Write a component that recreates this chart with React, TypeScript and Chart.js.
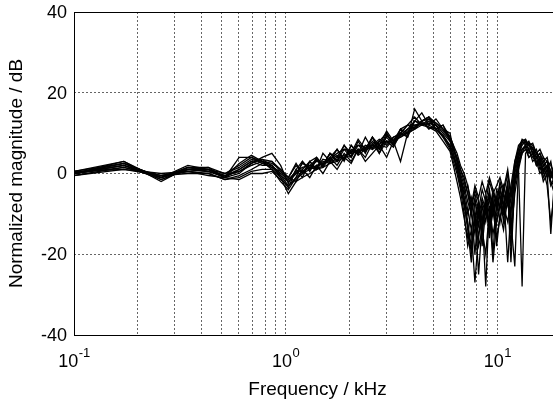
import React, { useEffect, useRef } from "react";
import { Chart, registerables } from "chart.js";

Chart.register(...registerables);

// Frequency grid (kHz)
const FREQS = [
  0.1, 0.172, 0.258, 0.345, 0.431, 0.517, 0.603, 0.689, 0.775, 0.861, 0.947, 1.03,
  1.12, 1.2, 1.3, 1.4, 1.5, 1.62, 1.75, 1.89, 2.04, 2.2, 2.38, 2.57, 2.77, 3.0, 3.23,
  3.49, 3.77, 4.07, 4.4, 4.75, 5.13, 5.54, 5.98,
  6.2, 6.45, 6.7, 6.97, 7.25, 7.54, 7.84, 8.16, 8.48, 8.82, 9.18, 9.54, 9.93, 10.3,
  10.7, 11.2, 11.6, 12.1, 12.6, 13.1, 13.6, 14.1, 14.7, 15.3, 15.9, 16.5, 17.2, 17.9,
  18.6, 19.3, 20,
];

// Normalized magnitude (dB) per measured curve
const CURVE_A = [0, 2.5, -1, 1.5, 0.5, -0.5, 1, 3, 3.5, 2, 0, -1.5, 0.5, 1.5, 2, 1.5, 3.5, 3, 4.5, 3.5, 6, 5, 7, 6.5, 8, 7, 9, 9.5, 11, 13, 12.5, 12, 11, 9, 6, 4, 2, -1, -4, -9, -14, -7, -11, -6, -9, -4, -10, -6, -3, -8, -2, -14, 1, 5, 7, 8, 6, 6.5, 4, 5, 2, 3, -1, 1, -4, -1];
const CURVE_B = [0.5, 3, -1.5, 1, 1.5, -1, 4, 4, 3, 1, -2, -4, -1, 3, 1, 4, 2, 5, 3, 7, 4, 8, 5, 9, 6, 10, 7, 11, 9, 16, 13, 14, 11, 12, 8, 6, 4, 1, -2, -5, -8, -3, -6, -2, -5, -1, -4, -8, -2, -5, 0, -6, 3, 6, 8, 7.5, 7, 5, 6, 3, 4, 1, 3, -2, 0, -5];
const CURVE_C = [-0.5, 1.5, -0.5, 0.5, 0, -1.5, -0.5, 1, 2.5, 3, 1, -1, -2, 1, -1, 2, 0, 3, 1, 4, 2.5, 6, 3, 5, 7, 4, 8, 3, 10, 11, 13, 11, 12, 9, 7, 5, 2, -2, -6, -12, -20, -9, -16, -8, -12, -6, -11, -4, -6, -10, -5, -18, -3, 2, 5, 6, 4, 5, 2, 3, -1, 1, -3, -1, -6, -2];
const CURVE_D = [0, 2, -1.5, 1, 0.5, -1, 0, 2.5, 4, 5, 2, -2.5, 1, -1, 3, 4, 2, 5, 4, 7, 5, 8.5, 6, 9, 7, 10.5, 8, 11, 12, 14, 12, 13.5, 11, 12, 9, 7, 5, 2, 0, -3, -7, -5, -9, -4, -7, -2, -5, -3, -1, -4, 1, -5, 2, 6, 8.5, 8, 7.5, 7, 5, 6, 4, 3, 2, 0, -2, -8];
const CURVE_E = [0, 3, -2, 1.5, 1, -0.5, 0.5, 2, 3, 1.5, -0.5, -3, -1, 0.5, 1.5, 1, 3, 2.5, 4, 4, 5.5, 5, 6.5, 6, 7, 6.5, 8.5, 9, 10.5, 12, 12, 11.5, 11, 9.5, 6.5, 3, 0, -4, -10, -18, -14, -27, -15, -10, -28, -8, -15, -10, -5, -12, -4, -22, -2, 3, 6, 7, 5, 5.5, 3, 2, -2, 0, -15, -2, -4, -4];
const CURVE_F = [0.5, 1, -0.5, 0, 0, -1.5, -1, 0.5, 1, 1, -1, -5, -2, -1, 0, 1, 1.5, 2.5, 3, 4, 4.5, 6, 5.5, 7, 6.5, 8, 7.5, 9.5, 10, 11, 12, 12.5, 12, 10, 8, 6, 3, 0, -3, -7, -10, -15, -8, -12, -6, -16, -7, -12, -8, -3, -7, -5, -1, 1, -28, 5, 6, 3, 4, 1, 2, -1, 1, -3, -1, -4];
const CURVE_G = [0, 2.5, -1, 2, 1, 0, 1.5, 3.5, 3, 2.5, 1, -1, 2, 0, 3, 1, 5, 3, 6, 3.5, 7, 5, 9, 6, 8, 10, 7, 11, 10, 13, 15, 12, 13.5, 11, 10, 6, 4, 1, -1, -5, -10, -6, -13, -7, -10, -5, -20, -6, -9, -4, -22, -9, 0, 4, 7.5, 8, 7, 6, 4, 5, 3, 4, 0, 1, -2, -1];
const CURVE_H = [-0.5, 1, 0, 0.5, -0.5, -1, -1.5, 0, 0, 0.5, -1.5, -3, -1.5, 0, 1, 2, 2.5, 3, 3.5, 4.5, 5, 5.5, 6, 6.5, 7.5, 8, 8, 9, 10, 11.5, 13, 13.5, 12.5, 11, 8.5, 5, 1, -3, -7, -14, -22, -11, -18, -14, -20, -9, -22, -12, -7, -9, -3, -15, -5, 1, 5, 7, 6, 4, 3, 0, 1, -3, -12, -5, -3, -14];
const CURVE_I = [0, 2, -1, 1, 0.5, -0.5, 0.5, 2.5, 3.5, 3, 0.5, -2, 0, 2.5, 1.5, 3, 2.5, 3.5, 5, 6, 5.5, 7, 6.5, 7, 8.5, 7.5, 9, 10, 12, 12, 12.5, 11.5, 10.5, 8, 5.5, 2, -2, -6, -11, -16, -8, -20, -9, -15, -7, -13, -6, -18, -10, -14, -6, -12, -23, 2, 6, 6.5, 4, 5, 2, 4, 0, 2, -2, -5, -6, -3];
const CURVE_J = [0, 1.5, -1, 1.5, 1.5, 0, 2, 4, 2.5, 1.5, 0.5, -1, 2.5, 0, 2, 3.5, 1.5, 4, 6, 3, 7, 4.5, 6, 9, 5, 9.5, 8, 10, 12, 11, 13, 14, 12, 10.5, 8.5, 6.5, 3.5, -1, -5, -3, -9, -4, -7, -14, -6, -10, -4, -7, -12, -5, -8, -3, 3, 7, 8, 8.5, 7, 7.5, 5, 4, 2, 3, -1, 2, 1, -2];
const CURVE_K = [0, 2, -0.5, 1, 1, -1, 1, 3, 2, 2, -0.5, -2, 0, 1, 3, 1, 2, 4, 2, 5, 3, 6, 4, 7.5, 5, 8, 6.5, 10, 9, 13, 12, 13, 11, 9.5, 7, 4, 1, -3, -8, -13, -18, -10, -25, -12, -8, -14, -7, -16, -11, -8, -12, -6, -2, 4, 6, 7, 7.5, 5, 4, 3, 1, 2, -2, -3, -4, -5];
const CURVE_L = [0.5, 2.5, -1, 0.5, 1, -1, 2.5, 4.5, 3, 2, -1, -3.5, 1, 3, 0.5, 3.5, 2, 5, 3, 6, 4, 7, 5.5, 8, 6, 9, 7, 9.5, 11, 11.5, 13, 14, 12.5, 11, 9, 7, 3, -1, -6, -10, -6, -12, -7, -18, -9, -12, -5, -9, -4, -8, -3, -10, 1, 5, 8, 7, 8, 6, 5, 2, 3, 0, -1, 0, -3, -6];

const CURVES = [CURVE_A, CURVE_B, CURVE_C, CURVE_D, CURVE_E, CURVE_F, CURVE_G, CURVE_H, CURVE_I, CURVE_J, CURVE_K, CURVE_L];

const X_GRID = [0.1, 0.2, 0.3, 0.4, 0.5, 0.6, 0.7, 0.8, 0.9, 1, 2, 3, 4, 5, 6, 7, 8, 9, 10, 20];
const X_LABELS = [
  { value: 0.1, exp: "-1" },
  { value: 1, exp: "0" },
  { value: 10, exp: "1" },
];
const Y_TICKS = [-40, -20, 0, 20, 40];
const X_TITLE = "Frequency / kHz";
const Y_TITLE = "Normalized magnitude / dB";

const FONT = '"Liberation Sans", Arial, Helvetica, sans-serif';

const textPlugin = {
  id: "customText",
  afterDraw(chart: any) {
    const { ctx, chartArea } = chart;
    const xs = chart.scales.x;
    const ys = chart.scales.y;
    ctx.save();
    // frame
    ctx.strokeStyle = "#000";
    ctx.lineWidth = 1;
    ctx.strokeRect(
      Math.round(chartArea.left) + 0.5,
      Math.round(chartArea.top) + 0.5,
      Math.round(chartArea.right - chartArea.left),
      Math.round(chartArea.bottom - chartArea.top)
    );
    ctx.fillStyle = "#000";
    // y tick labels
    ctx.font = `18px ${FONT}`;
    ctx.textAlign = "right";
    ctx.textBaseline = "middle";
    Y_TICKS.forEach((v) => {
      ctx.fillText(String(v), chartArea.left - 7, ys.getPixelForValue(v) + 1);
    });
    // x tick labels with superscripts
    X_LABELS.forEach((l) => {
      const px = xs.getPixelForValue(l.value);
      ctx.font = `18px ${FONT}`;
      const wBase = ctx.measureText("10").width;
      ctx.font = `13px ${FONT}`;
      const wExp = ctx.measureText(l.exp).width;
      const start = px - (wBase + wExp) / 2;
      ctx.textAlign = "left";
      ctx.textBaseline = "alphabetic";
      ctx.font = `18px ${FONT}`;
      ctx.fillText("10", start, chartArea.bottom + 32);
      ctx.font = `13px ${FONT}`;
      ctx.fillText(l.exp, start + wBase + 0.5, chartArea.bottom + 22);
    });
    // axis titles
    ctx.font = `19px ${FONT}`;
    ctx.textAlign = "center";
    ctx.textBaseline = "middle";
    ctx.fillText(X_TITLE, (chartArea.left + chartArea.right) / 2, chartArea.bottom + 55);
    ctx.save();
    ctx.translate(17, (chartArea.top + chartArea.bottom) / 2);
    ctx.rotate(-Math.PI / 2);
    ctx.fillText(Y_TITLE, 0, 0);
    ctx.restore();
    ctx.restore();
  },
};

export default function App() {
  const ref = useRef<HTMLCanvasElement | null>(null);
  useEffect(() => {
    if (!ref.current) return;
    const chart = new Chart(ref.current, {
      type: "line",
      data: {
        datasets: CURVES.map((c) => ({
          data: FREQS.map((f, i) => ({ x: f, y: c[i] })),
          borderColor: "#000",
          borderWidth: 1.3,
          pointRadius: 0,
          tension: 0,
          fill: false,
        })),
      },
      options: {
        animation: false,
        responsive: false,
        devicePixelRatio: 1,
        events: [],
        layout: { padding: { top: 12, right: 9, left: 0, bottom: 0 } },
        plugins: { legend: { display: false }, tooltip: { enabled: false } },
        scales: {
          x: {
            type: "logarithmic",
            min: 0.1,
            max: 20,
            afterBuildTicks: (s: any) => {
              s.ticks = X_GRID.map((v) => ({ value: v }));
            },
            afterFit: (s: any) => {
              s.height = 69;
            },
            ticks: { display: false },
            grid: { color: "#666", lineWidth: 1, drawTicks: false },
            border: { display: false, dash: [2, 2] },
          },
          y: {
            type: "linear",
            min: -40,
            max: 40,
            afterBuildTicks: (s: any) => {
              s.ticks = Y_TICKS.map((v) => ({ value: v }));
            },
            afterFit: (s: any) => {
              s.width = 74;
            },
            ticks: { display: false },
            grid: { color: "#666", lineWidth: 1, drawTicks: false },
            border: { display: false, dash: [2, 2] },
          },
        },
      } as any,
      plugins: [textPlugin],
    });
    return () => chart.destroy();
  }, []);
  return (
    <div
      style={{
        position: "fixed",
        left: 0,
        top: 0,
        width: 553,
        height: 404,
        overflow: "hidden",
        background: "#fff",
      }}
    >
      <canvas ref={ref} width={570} height={404} style={{ display: "block", width: 570, height: 404 }} />
    </div>
  );
}
